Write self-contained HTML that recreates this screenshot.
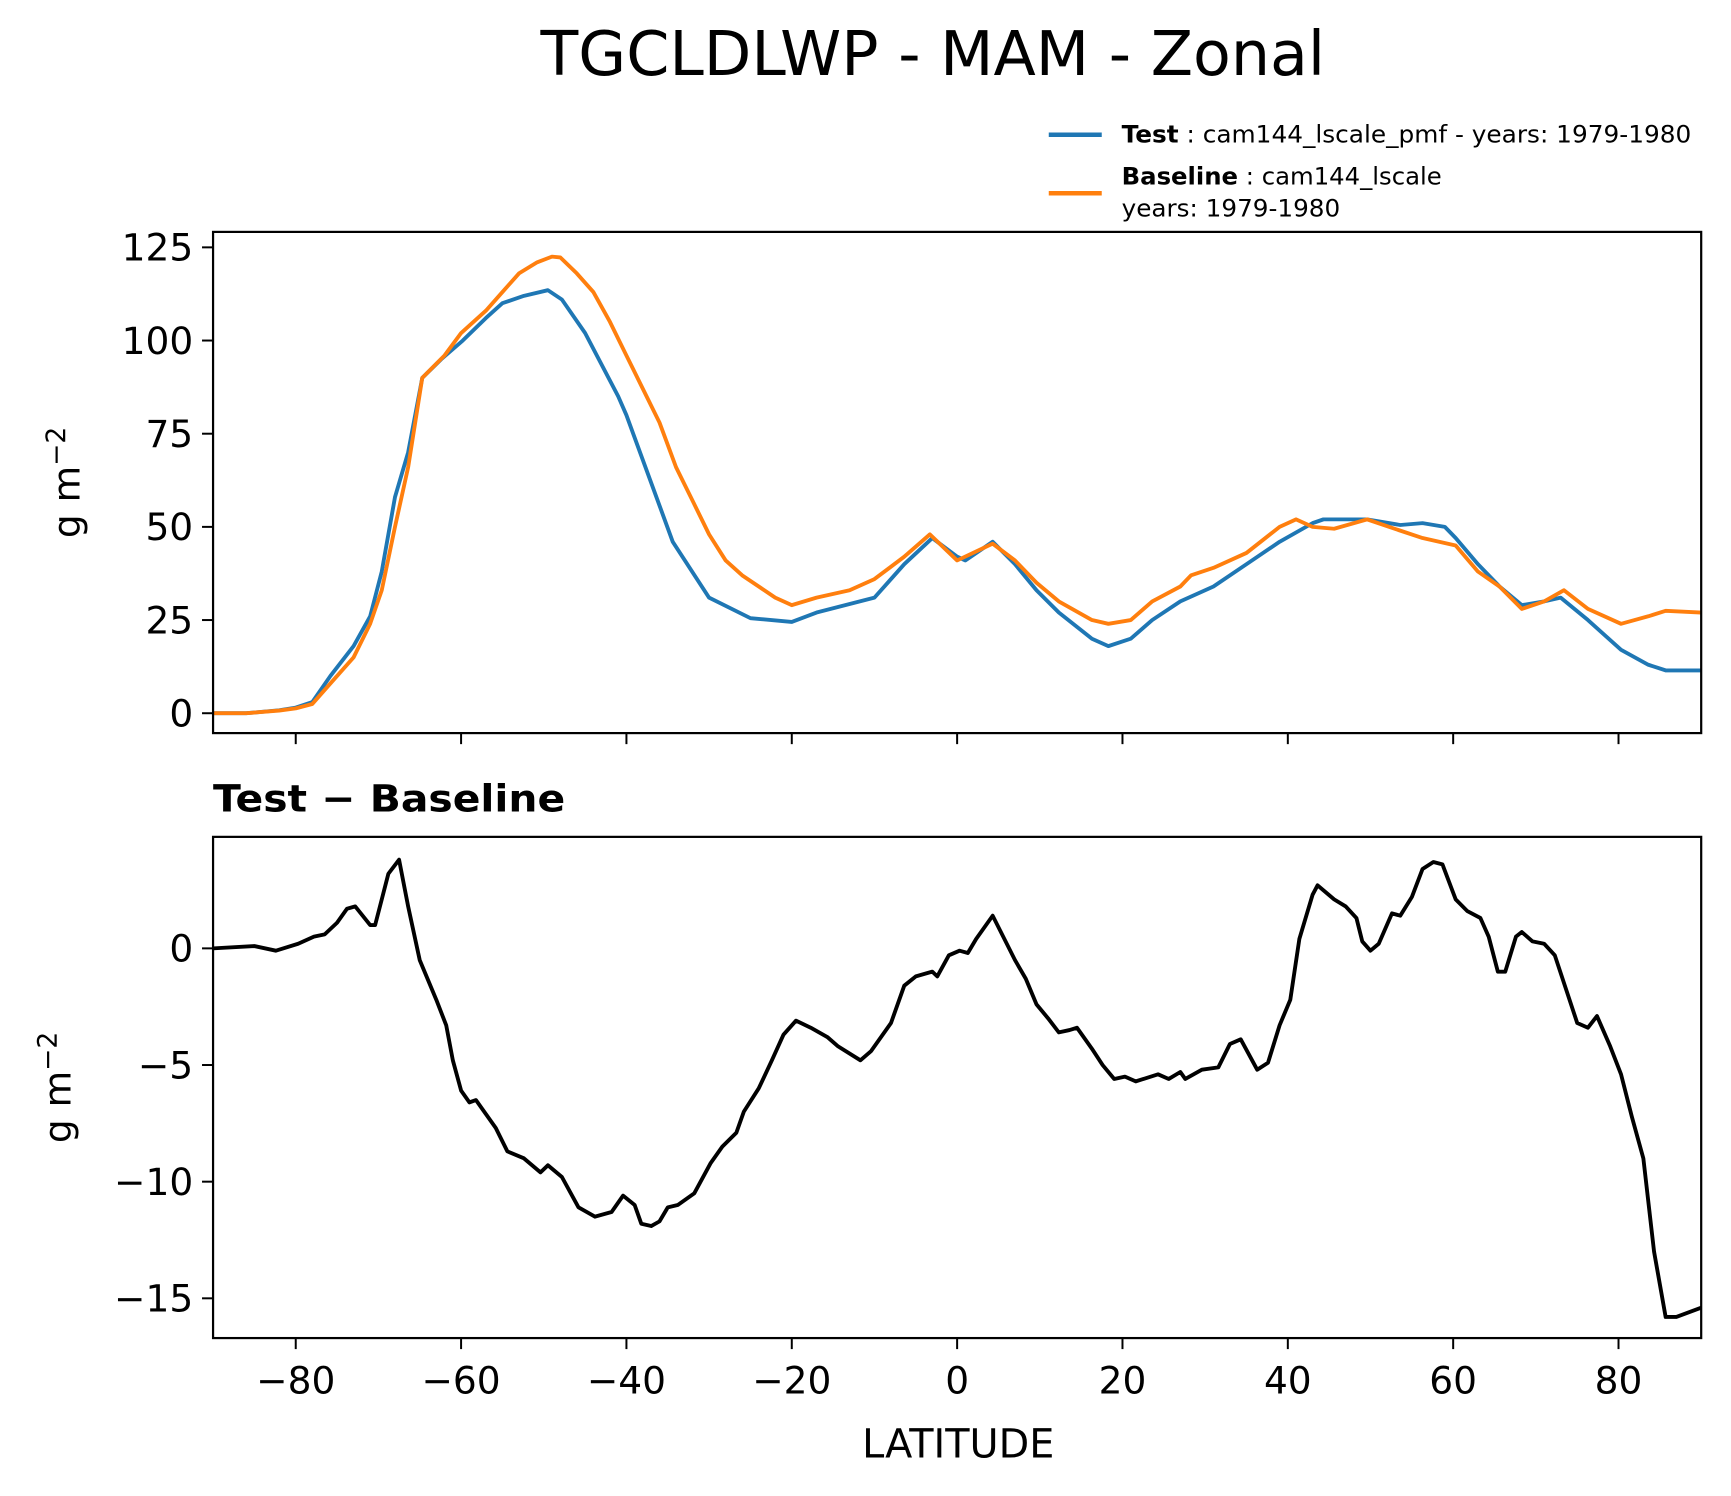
<!DOCTYPE html>
<html><head><meta charset="utf-8"><style>
html,body{margin:0;padding:0;background:#fff;}
svg{display:block;font-family:"DejaVu Sans","Liberation Sans",sans-serif;}
</style></head><body>
<svg id="fig" width="1731" height="1496" viewBox="0 0 1568 1355" xmlns="http://www.w3.org/2000/svg">
<rect width="1568" height="1355" fill="#fff"/>
<text x="845" y="68" font-size="56" text-anchor="middle">TGCLDLWP - MAM - Zonal</text>
<g>
<line x1="950" y1="122" x2="998" y2="122" stroke="#1f77b4" stroke-width="4"/>
<text x="1016" y="129" font-size="22" textLength="516" lengthAdjust="spacingAndGlyphs"><tspan font-weight="bold">Test</tspan> : cam144_lscale_pmf - years: 1979-1980</text>
<line x1="950" y1="175" x2="998" y2="175" stroke="#ff7f0e" stroke-width="4"/>
<text x="1016" y="167" font-size="22" textLength="290" lengthAdjust="spacingAndGlyphs"><tspan font-weight="bold">Baseline</tspan> : cam144_lscale</text>
<text x="1016" y="196" font-size="22" textLength="198" lengthAdjust="spacingAndGlyphs">years: 1979-1980</text>
</g>
<g id="topAx"></g>
<g id="botAx"></g>
<text x="193" y="735" font-size="34" font-weight="bold" textLength="319" lengthAdjust="spacingAndGlyphs">Test − Baseline</text>
<text transform="translate(72,437) rotate(-90)" font-size="34" text-anchor="middle">g m<tspan dy="-13" font-size="24">−2</tspan></text>
<text transform="translate(64,985) rotate(-90)" font-size="34" text-anchor="middle">g m<tspan dy="-13" font-size="24">−2</tspan></text>
<text x="868" y="1320" font-size="36" text-anchor="middle">LATITUDE</text>
</svg>
<script>
const testLat = [-90,-86,-82,-80,-78,-75.8,-73,-71,-69.6,-68,-66.4,-64.7,-62.4,-59.8,-57,-55,-52.4,-49.5,-47.8,-45,-41,-40,-34.4,-30,-25,-20,-17,-10,-6.4,-3,0,1,4.3,7,9.6,12.3,16.3,18.3,21,23.6,27,31,35,39,43,44.3,49.6,53.6,56.3,59,60.3,63,65.6,68.3,71,73,76.3,80.3,83.6,85.7,90];
const testVal = [0,0,0.8,1.5,3,10,18,26,38,58,70,90,95,100,106,110,112,113.5,111,102,85,80,46,31,25.5,24.5,27,31,40,47,42,41,46,40,33,27,20,18,20,25,30,34,40,46,51,52,52,50.5,51,50,47,40,34,29,30,31,25,17,13,11.5,11.5];
const baseLat = [-90,-86,-82,-80,-78,-75.8,-73,-71,-69.6,-68,-66.4,-64.7,-62,-60,-57,-55,-53,-50.8,-49,-48,-46,-44,-42,-40,-38,-36,-34,-32,-30,-28,-26,-24,-22,-20,-17,-13,-10,-6.4,-3.3,0,4.3,7,9.6,12.3,16.3,18.3,21,23.6,27,28.3,31,35,39,41,43,45.6,49.6,53.6,56.3,60.3,63,65.6,68.3,71,73.4,76.3,80.3,83.6,85.7,90];
const baseVal = [0,0,0.7,1.3,2.5,8,15,24,33,50,66,90,96,102,108,113,118,121,122.5,122.3,118,113,105,96,87,78,66,57,48,41,37,34,31,29,31,33,36,42,48,41,45.5,41,35,30,25,24,25,30,34,37,39,43,50,52,50,49.5,52,49,47,45,38,34,28,30,33,28,24,26,27.5,27];
const diffLat = [-90,-85,-82.4,-79.7,-77.8,-76.5,-75,-73.8,-72.8,-71,-70.4,-68.8,-67.5,-66.4,-65,-63,-61.8,-61,-60,-59,-58.2,-57,-55.8,-54.4,-52.4,-50.4,-49.5,-47.8,-45.8,-43.8,-41.8,-40.4,-39,-38.2,-37,-36,-35,-33.8,-31.8,-29.8,-28.4,-26.7,-25.8,-24,-22.4,-21,-19.5,-17.7,-15.7,-14.4,-11.7,-10.4,-8,-6.4,-5,-3,-2.4,-1,0.3,1.3,2.3,4.3,7,8.3,9.6,11,12.3,13.6,14.5,16.3,17.6,19,20.3,21.6,24.3,25.6,27,27.6,29.6,31.6,33,34.3,36.3,37.6,39,40.3,41.4,43,43.6,45.6,47,48.3,49,50,51,52.6,53.6,55,56.3,57.6,58.7,60.3,61.7,63.3,64.3,65.4,66.3,67.6,68.3,69.6,71,72.3,73.7,75,76.3,77.4,79,80.3,81.6,83,84.3,85.7,87,90];
const diffVal = [0,0.1,-0.1,0.2,0.5,0.6,1.1,1.7,1.8,1.0,1.0,3.2,3.8,1.8,-0.5,-2.2,-3.3,-4.8,-6.1,-6.6,-6.5,-7.1,-7.7,-8.7,-9.0,-9.6,-9.3,-9.8,-11.1,-11.5,-11.3,-10.6,-11.0,-11.8,-11.9,-11.7,-11.1,-11.0,-10.5,-9.2,-8.5,-7.9,-7.0,-6.0,-4.8,-3.7,-3.1,-3.4,-3.8,-4.2,-4.8,-4.4,-3.2,-1.6,-1.2,-1.0,-1.2,-0.3,-0.1,-0.2,0.4,1.4,-0.5,-1.3,-2.4,-3.0,-3.6,-3.5,-3.4,-4.3,-5.0,-5.6,-5.5,-5.7,-5.4,-5.6,-5.3,-5.6,-5.2,-5.1,-4.1,-3.9,-5.2,-4.9,-3.3,-2.2,0.4,2.3,2.7,2.1,1.8,1.3,0.3,-0.1,0.2,1.5,1.4,2.2,3.4,3.7,3.6,2.1,1.6,1.3,0.5,-1.0,-1.0,0.5,0.7,0.3,0.2,-0.3,-1.8,-3.2,-3.4,-2.9,-4.2,-5.4,-7.2,-9.0,-13.0,-15.8,-15.8,-15.4];
const xTicks = [-80,-60,-40,-20,0,20,40,60,80];
const topYTicks = [0,25,50,75,100,125];
const botYTicks = [0,-5,-10,-15];

const NS='http://www.w3.org/2000/svg';
const L=193,R=1541;
const xs = v => L + (v+90)/180*(R-L);
const yTop = v => 646 - v*(646-224)/125;
const yBot = v => 859 - v*(1176-859)/15;
function mk(tag,attrs,parent){const e=document.createElementNS(NS,tag);for(const k in attrs)e.setAttribute(k,attrs[k]);parent.appendChild(e);return e;}
function axes(g,t0,b0,yfn,yticks,showX,prefix){
  const frame=mk('rect',{x:L,y:t0,width:R-L,height:b0-t0,fill:'none',stroke:'#000','stroke-width':2},g);
  
  
  xTicks.forEach(t=>{
    const tl=mk('line',{x1:xs(t),x2:xs(t),y1:b0,y2:b0+10,stroke:'#000','stroke-width':1.8},g);
    
    
    if(showX){
      const tx=mk('text',{x:xs(t),y:b0+50,'font-size':34,'text-anchor':'middle'},g);
      tx.textContent=(t<0?'−':'')+Math.abs(t);
      
      
    }
  });
  yticks.forEach(t=>{
    const tl=mk('line',{x1:L-10,x2:L,y1:yfn(t),y2:yfn(t),stroke:'#000','stroke-width':1.8},g);
    
    
    const tx=mk('text',{x:L-18,y:yfn(t)+12,'font-size':34,'text-anchor':'end'},g);
    tx.textContent=(t<0?'−':'')+Math.abs(t);
    
    
  });
}
function line(g,lat,val,yfn,color,name){
  const d=lat.map((la,i)=>(i?'L':'M')+xs(la).toFixed(1)+','+yfn(val[i]).toFixed(1)).join('');
  const p=mk('path',{d:d,fill:'none',stroke:color,'stroke-width':3.5,'stroke-linejoin':'round'},g);
  
  
}
const topG=document.getElementById('topAx'), botG=document.getElementById('botAx');
line(topG,testLat,testVal,yTop,'#1f77b4','test-line');
line(topG,baseLat,baseVal,yTop,'#ff7f0e','baseline-line');
axes(topG,210,664,yTop,topYTicks,false,'top');
line(botG,diffLat,diffVal,yBot,'#000','difference-line');
axes(botG,758,1212,yBot,botYTicks,true,'bottom');
</script>
</body></html>
